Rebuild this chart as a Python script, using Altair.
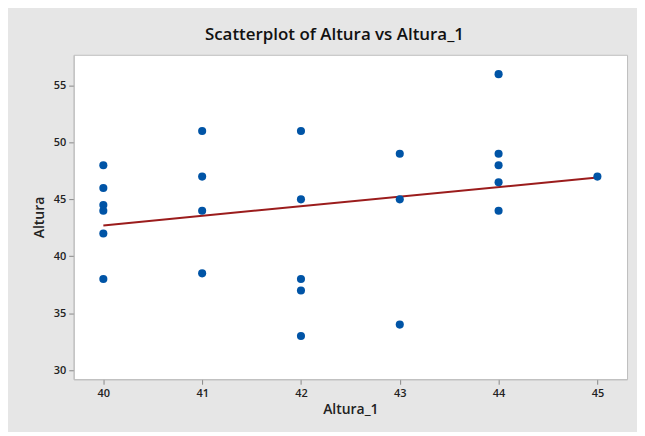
import altair as alt
import pandas as pd

altura_1 = [40, 40, 40, 40, 40, 40,
            41, 41, 41, 41,
            42, 42, 42, 42, 42,
            43, 43, 43,
            44, 44, 44, 44, 44,
            45]
altura = [48, 46, 44.5, 44, 42, 38,
          51, 47, 44, 38.5,
          51, 45, 38, 37, 33,
          49, 45, 34,
          56, 49, 48, 46.5, 44,
          47]
x_ticks = [40, 41, 42, 43, 44, 45]
y_ticks = [30, 35, 40, 45, 50, 55]

df = pd.DataFrame({"Altura_1": altura_1, "Altura": altura})

FONT = "Open Sans"
W, H = 556, 326

xscale = alt.Scale(domain=[39.7, 45.3], nice=False, zero=False)
yscale = alt.Scale(domain=[29.2, 57.7], nice=False, zero=False)

xaxis = alt.Axis(values=x_ticks, format="d", grid=False, tickSize=5, tickColor="#888888",
                 domainColor="#bdbdbd", labelFont=FONT, labelFontSize=11,
                 labelFontWeight=600, labelColor="#222222", labelPadding=3,
                 title="Altura_1", titleFont=FONT, titleFontSize=14,
                 titleFontWeight=600, titleColor="#222222",
                 titleX=W / 2, titleY=30, titleBaseline="middle",
                 titleAnchor="middle")
yaxis = alt.Axis(values=y_ticks, format="d", grid=False, tickSize=5, tickColor="#888888",
                 domainColor="#bdbdbd", labelFont=FONT, labelFontSize=11,
                 labelFontWeight=600, labelColor="#222222", labelPadding=3,
                 title="Altura", titleFont=FONT, titleFontSize=14,
                 titleFontWeight=600, titleColor="#222222",
                 titleX=-34, titleY=H / 2, titleAngle=270,
                 titleBaseline="middle", titleAlign="center")

base = alt.Chart(df)

points = base.mark_circle(size=66, opacity=1, color="#0054A6").encode(
    x=alt.X("Altura_1:Q", scale=xscale, axis=xaxis),
    y=alt.Y("Altura:Q", scale=yscale, axis=yaxis),
)

line = base.transform_regression(
    "Altura_1", "Altura", extent=[40, 45]
).mark_line(color="#9B1C1C", strokeWidth=2).encode(
    x=alt.X("Altura_1:Q", scale=xscale),
    y=alt.Y("Altura:Q", scale=yscale),
)

chart = (line + points).properties(
    width=W,
    height=H,
    background="#E6E6E6",
    autosize=alt.AutoSizeParams(type="none"),
    padding={"left": 66, "top": 46, "right": 10, "bottom": 52},
    title=alt.TitleParams(
        "Scatterplot of Altura vs Altura_1",
        font=FONT, fontSize=17, fontWeight=600, color="#111111",
        anchor="middle", dx=-16, offset=11,
    ),
).configure_view(stroke="#bdbdbd", fill="white")

chart.save("out.html", embed_options={"renderer": "svg", "actions": False})
